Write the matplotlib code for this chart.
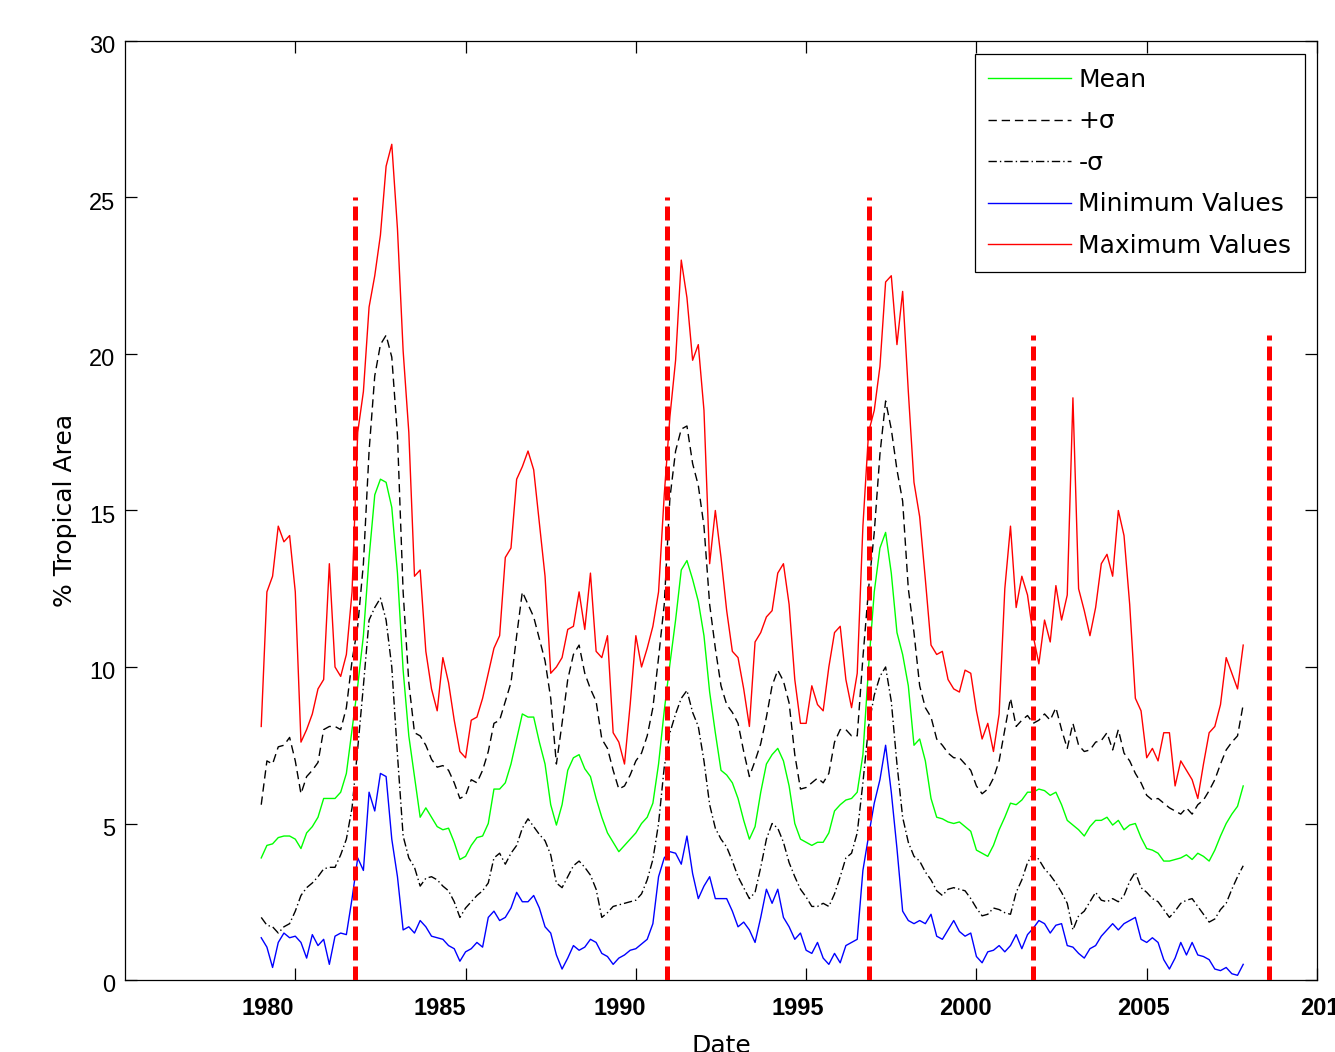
import numpy as np
import matplotlib
matplotlib.use("Agg")
import matplotlib.pyplot as plt
from matplotlib.transforms import ScaledTranslation

# ---------- data (one value every 2 months) ----------
start_year = 1979.0

max_values = [
    8.1, 12.4, 12.9, 14.5, 14.0, 14.2,     # 1979
    12.4, 7.6, 8.0, 8.5, 9.3, 9.6,         # 1980
    13.3, 10.0, 9.7, 10.4, 12.4, 17.5,     # 1981
    18.8, 21.5, 22.5, 23.8, 26.0, 26.7,    # 1982
    24.0, 20.1, 17.5, 12.9, 13.1, 10.5,    # 1983
    9.3, 8.6, 10.3, 9.5, 8.3, 7.3,         # 1984
    7.1, 8.3, 8.4, 9.0, 9.8, 10.6,         # 1985
    11.0, 13.5, 13.8, 16.0, 16.4, 16.9,    # 1986
    16.3, 14.6, 12.9, 9.8, 10.0, 10.3,     # 1987
    11.2, 11.3, 12.4, 11.2, 13.0, 10.5,    # 1988
    10.3, 11.0, 7.9, 7.6, 6.9, 8.8,        # 1989
    11.0, 10.0, 10.6, 11.3, 12.4, 15.5,    # 1990
    18.0, 19.8, 23.0, 21.8, 19.8, 20.3,    # 1991
    18.2, 13.3, 15.0, 13.5, 11.8, 10.5,    # 1992
    10.3, 9.3, 8.1, 10.8, 11.1, 11.6,      # 1993
    11.8, 13.0, 13.3, 12.0, 9.6, 8.2,      # 1994
    8.2, 9.4, 8.8, 8.6, 10.0, 11.1,        # 1995
    11.3, 9.6, 8.7, 9.8, 14.5, 17.5,       # 1996
    18.2, 19.6, 22.3, 22.5, 20.3, 22.0,    # 1997
    18.8, 15.9, 14.8, 12.8, 10.7, 10.4,    # 1998
    10.5, 9.6, 9.3, 9.2, 9.9, 9.8,         # 1999
    8.6, 7.7, 8.2, 7.3, 8.5, 12.5,         # 2000
    14.5, 11.9, 12.9, 12.3, 11.0, 10.1,    # 2001
    11.5, 10.8, 12.6, 11.5, 12.3, 18.6,    # 2002
    12.5, 11.8, 11.0, 11.9, 13.3, 13.6,    # 2003
    12.9, 15.0, 14.2, 12.0, 9.0, 8.6,      # 2004
    7.1, 7.4, 7.0, 7.9, 7.9, 6.2,          # 2005
    7.0, 6.7, 6.4, 5.8, 6.9, 7.9,          # 2006
    8.1, 8.8, 10.3, 9.8, 9.3, 10.7,        # 2007
]

plus_sigma = [
    5.6, 7.0, 6.9, 7.45, 7.5, 7.75,
    7.0, 5.95, 6.5, 6.7, 6.95, 8.0,
    8.1, 8.1, 8.0, 8.7, 10.2, 11.3,
    13.3, 16.9, 19.3, 20.3, 20.6, 19.9,
    17.4, 12.4, 9.5, 7.9, 7.8, 7.5,
    7.05, 6.8, 6.85, 6.7, 6.3, 5.8,
    5.9, 6.4, 6.3, 6.7, 7.3, 8.2,
    8.3, 8.9, 9.5, 11.0, 12.4, 12.0,
    11.6, 10.9, 10.2, 9.0, 6.9, 8.2,
    9.6, 10.4, 10.7, 9.8, 9.3, 8.9,
    7.7, 7.4, 6.7, 6.1, 6.2, 6.55,
    7.0, 7.25, 7.8, 8.7, 10.3, 12.0,
    15.4, 16.9, 17.6, 17.7, 16.5, 15.8,
    14.5, 12.0, 10.6, 9.4, 8.8, 8.55,
    8.2, 7.3, 6.5, 7.0, 7.55, 8.4,
    9.4, 9.9, 9.55, 8.85, 7.2, 6.1,
    6.15, 6.3, 6.45, 6.3, 6.6, 7.6,
    8.0, 8.0, 7.8, 7.8, 10.3, 12.5,
    14.3, 16.8, 18.5, 17.6, 16.3, 15.3,
    12.5, 11.1, 9.4, 8.7, 8.4, 7.7,
    7.5, 7.25, 7.1, 7.1, 6.9, 6.7,
    6.2, 5.95, 6.1, 6.45, 7.0, 8.0,
    9.0, 8.1, 8.3, 8.45, 8.2, 8.3,
    8.5, 8.3, 8.7, 8.0, 7.4, 8.2,
    7.5, 7.3, 7.35, 7.6, 7.65, 7.9,
    7.35, 8.0, 7.25, 7.0, 6.6, 6.3,
    5.9, 5.75, 5.8, 5.65, 5.5, 5.4,
    5.3, 5.5, 5.3, 5.6, 5.75, 6.05,
    6.4, 6.9, 7.35, 7.6, 7.8, 8.8,
]

mean_values = [
    3.9, 4.3, 4.35, 4.55, 4.6, 4.6,
    4.5, 4.2, 4.7, 4.9, 5.2, 5.8,
    5.8, 5.8, 6.0, 6.6, 8.0, 9.4,
    11.0, 13.5, 15.5, 16.0, 15.9, 15.1,
    13.0, 9.9, 7.8, 6.5, 5.2, 5.5,
    5.2, 4.9, 4.8, 4.85, 4.4, 3.85,
    3.95, 4.3, 4.55, 4.6, 5.0, 6.1,
    6.1, 6.3, 6.9, 7.7, 8.5, 8.4,
    8.4, 7.6, 6.9, 5.6, 4.95, 5.6,
    6.7, 7.1, 7.2, 6.75, 6.5, 5.8,
    5.2, 4.7, 4.4, 4.1, 4.3, 4.5,
    4.7, 5.0, 5.2, 5.65, 6.9, 8.6,
    10.1, 11.5, 13.1, 13.4, 12.8, 12.1,
    11.0, 9.2, 7.9, 6.7, 6.55, 6.3,
    5.8, 5.1, 4.5, 4.9, 6.0, 6.9,
    7.2, 7.4, 7.0, 6.2, 5.0, 4.5,
    4.4, 4.3, 4.4, 4.4, 4.7, 5.4,
    5.6, 5.75, 5.8, 6.0, 7.2, 10.0,
    12.4, 13.8, 14.3, 13.0, 11.1, 10.4,
    9.4, 7.5, 7.7, 7.0, 5.8, 5.2,
    5.15, 5.05, 5.0, 5.05, 4.9, 4.75,
    4.15, 4.05, 3.95, 4.3, 4.8, 5.2,
    5.65, 5.6, 5.75, 6.0, 6.0, 6.1,
    6.05, 5.9, 6.0, 5.6, 5.1, 4.95,
    4.8, 4.6, 4.9, 5.1, 5.1, 5.2,
    4.95, 5.1, 4.8, 4.95, 5.0, 4.55,
    4.2, 4.15, 4.05, 3.8, 3.8, 3.85,
    3.9, 4.0, 3.85, 4.05, 3.95, 3.8,
    4.15, 4.6, 5.0, 5.3, 5.55, 6.2,
]

minus_sigma = [
    2.0, 1.75, 1.7, 1.5, 1.7, 1.8,
    2.2, 2.7, 2.95, 3.1, 3.3, 3.55,
    3.6, 3.6, 4.0, 4.5, 5.5, 7.4,
    9.4, 11.5, 11.9, 12.2, 11.5, 10.0,
    7.2, 4.6, 3.9, 3.6, 3.0, 3.25,
    3.3, 3.2, 3.0, 2.85, 2.5, 2.0,
    2.3, 2.5, 2.7, 2.85, 3.1, 3.9,
    4.05, 3.7, 4.05, 4.3, 4.85, 5.15,
    4.9, 4.65, 4.45, 4.0, 3.1, 2.95,
    3.3, 3.65, 3.8, 3.6, 3.35, 2.9,
    2.0, 2.15, 2.35, 2.4, 2.45, 2.5,
    2.55, 2.75, 3.2, 3.85, 5.0, 6.8,
    7.9, 8.5, 9.0, 9.25, 8.55, 8.1,
    7.0, 5.6, 4.85, 4.5, 4.25, 3.8,
    3.3, 2.95, 2.6, 2.8, 3.6, 4.5,
    5.0, 4.85, 4.4, 3.75, 3.3, 2.9,
    2.65, 2.35, 2.35, 2.45, 2.35, 2.75,
    3.3, 3.9, 4.05, 4.7, 6.3, 8.1,
    9.1, 9.7, 10.0, 8.9, 6.9, 5.2,
    4.4, 3.95, 3.8, 3.45, 3.2, 2.85,
    2.7, 2.9, 2.95, 2.9, 2.85, 2.6,
    2.3, 2.05, 2.1, 2.3, 2.25, 2.15,
    2.1, 2.8, 3.2, 3.75, 4.05, 3.85,
    3.55, 3.35, 3.1, 2.8, 2.45, 1.6,
    2.05, 2.2, 2.5, 2.8, 2.55, 2.5,
    2.6, 2.5, 2.7, 3.15, 3.45, 2.95,
    2.8, 2.6, 2.5, 2.25, 2.0, 2.2,
    2.45, 2.55, 2.6, 2.35, 2.1, 1.85,
    1.95, 2.25, 2.45, 2.9, 3.3, 3.65,
]

min_values = [
    1.35, 1.05, 0.4, 1.2, 1.5, 1.35,
    1.4, 1.2, 0.7, 1.45, 1.1, 1.3,
    0.5, 1.4, 1.5, 1.45, 2.6, 3.9,
    3.5, 6.0, 5.4, 6.6, 6.5, 4.5,
    3.3, 1.6, 1.7, 1.5, 1.9, 1.7,
    1.4, 1.35, 1.3, 1.1, 1.0, 0.6,
    0.9, 1.0, 1.2, 1.05, 2.0, 2.2,
    1.9, 2.0, 2.3, 2.8, 2.5, 2.5,
    2.7, 2.3, 1.7, 1.5, 0.8, 0.35,
    0.7, 1.1, 0.95, 1.05, 1.3, 1.2,
    0.85, 0.75, 0.5, 0.7, 0.8, 0.95,
    1.0, 1.15, 1.3, 1.8, 3.3, 3.9,
    4.1, 4.05, 3.7, 4.6, 3.4, 2.6,
    3.0, 3.3, 2.6, 2.6, 2.6, 2.2,
    1.7, 1.85, 1.6, 1.2, 2.0, 2.9,
    2.45, 2.9, 2.0, 1.7, 1.3, 1.5,
    0.95, 0.85, 1.2, 0.7, 0.5, 0.85,
    0.55, 1.1, 1.2, 1.3, 3.5, 4.6,
    5.65, 6.4, 7.5, 6.0, 4.2, 2.2,
    1.9, 1.8, 1.9, 1.8, 2.1, 1.4,
    1.3, 1.6, 1.9, 1.55, 1.4, 1.5,
    0.75, 0.55, 0.9, 0.95, 1.1, 0.9,
    1.1, 1.45, 1.0, 1.45, 1.65, 1.9,
    1.8, 1.5, 1.75, 1.8, 1.1, 1.05,
    0.85, 0.7, 1.0, 1.1, 1.4, 1.6,
    1.8, 1.6, 1.8, 1.9, 2.0, 1.3,
    1.2, 1.35, 1.2, 0.65, 0.35, 0.7,
    1.2, 0.8, 1.2, 0.8, 0.75, 0.65,
    0.35, 0.3, 0.4, 0.2, 0.15, 0.5,
]

# red dashed markers
event_years = [1981.75, 1990.9, 1996.85, 2001.65, 2008.6]
event_tops = [25, 25, 25, 20.6, 20.6]

dates = start_year + np.arange(len(mean_values)) / 6.0

# ---------- figure ----------
fig = plt.figure(figsize=(13.35, 10.52), dpi=100)
ax = fig.add_axes([125 / 1335, 1 - 980 / 1052, 1192 / 1335, 939 / 1052])

l_mean, = ax.plot(dates, mean_values, color=(0, 1, 0), lw=1.0, label='Mean')
l_plus, = ax.plot(dates, plus_sigma, color='k', lw=1.0, dashes=(6, 3.5), label='+σ')
l_minus, = ax.plot(dates, minus_sigma, color='k', lw=1.0, dashes=(6, 2.2, 1, 2.2), label='-σ')
l_min, = ax.plot(dates, min_values, color=(0, 0, 1), lw=1.0, label='Minimum Values')
l_max, = ax.plot(dates, max_values, color=(1, 0, 0), lw=1.0, label='Maximum Values')

for yr, top in zip(event_years, event_tops):
    ax.plot([yr, yr], [0, top], color=(1, 0, 0), lw=3.6, dashes=(2.8, 1.2), zorder=5)

ax.set_xlim(1975, 2010)
ax.set_ylim(0, 30)
ax.set_xticks(np.arange(1980, 2011, 5))
ax.set_yticks(np.arange(0, 31, 5))

ax.tick_params(direction='in', length=8.6, width=0.9, top=True, right=True)
ax.tick_params(axis='x', pad=12)
ax.tick_params(axis='y', pad=7)
for sp in ax.spines.values():
    sp.set_linewidth(0.9)

for lab in ax.get_xticklabels():
    lab.set_fontfamily('Liberation Sans')
    lab.set_fontweight('bold')
    lab.set_fontsize(17)
for lab in ax.get_yticklabels():
    lab.set_fontfamily('Liberation Sans')
    lab.set_fontsize(17)

# the exported tick labels sit a bit off their ticks
x_shift_px = [-28, -26, -16, -8, -11, -3, 9]
for tick, dx in zip(ax.xaxis.get_major_ticks(), x_shift_px):
    tick.label1.set_transform(tick.label1.get_transform()
                              + ScaledTranslation(dx / 100, 0, fig.dpi_scale_trans))
for tick in ax.yaxis.get_major_ticks():
    tick.label1.set_transform(tick.label1.get_transform()
                              + ScaledTranslation(0, -4 / 100, fig.dpi_scale_trans))

ax.set_xlabel('Date', fontsize=18, fontfamily='DejaVu Sans', labelpad=10)
ax.set_ylabel('% Tropical Area', fontsize=18, fontfamily='DejaVu Sans', labelpad=9)

leg = ax.legend(handles=[l_mean, l_plus, l_minus, l_min, l_max],
                loc='upper right', bbox_to_anchor=(1305 / 1335, 1 - 54 / 1052),
                bbox_transform=fig.transFigure, borderaxespad=0,
                fancybox=False, framealpha=1, edgecolor='k',
                prop={'family': 'DejaVu Sans', 'size': 18},
                handlelength=3.3, handletextpad=0.3, labelspacing=0.7,
                borderpad=0.55)
leg.get_frame().set_linewidth(0.9)

fig.savefig('out.png', dpi=100)
